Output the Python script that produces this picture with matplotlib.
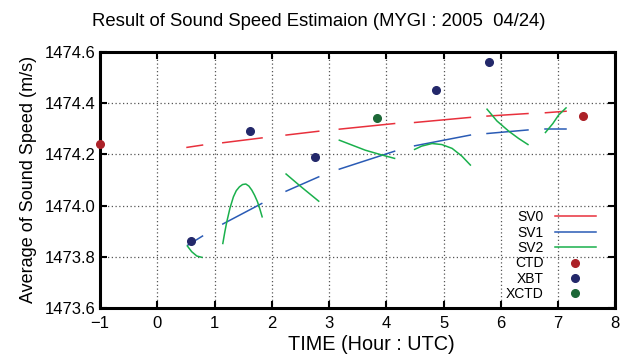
import matplotlib
matplotlib.use('Agg')
import matplotlib.pyplot as plt

plt.rcParams['font.family'] = ['Liberation Sans', 'DejaVu Sans']

# SV0 (red) segments: start/end of each fit window
sv0_x = [[0.52, 0.79], [1.145, 1.83], [2.25, 2.82], [3.18, 4.145],
         [4.495, 5.469], [5.76, 6.475], [6.78, 7.14]]
sv0_y = [[1474.227, 1474.236], [1474.245, 1474.264], [1474.275, 1474.290],
         [1474.298, 1474.320], [1474.324, 1474.344], [1474.349, 1474.359],
         [1474.362, 1474.368]]

# SV1 (blue)
sv1_x = [[0.53, 0.79], [1.145, 1.825], [2.25, 2.82], [3.18, 4.145],
         [4.495, 5.469], [5.76, 6.475], [6.78, 7.14]]
sv1_y = [[1473.845, 1473.881], [1473.928, 1474.008], [1474.056, 1474.112],
         [1474.142, 1474.212], [1474.233, 1474.275], [1474.281, 1474.295],
         [1474.297, 1474.297]]

# SV2 (green), read at several points along each curve
sv2_x = [[0.526, 0.601, 0.691, 0.778],
         [1.145, 1.18, 1.215, 1.27, 1.330, 1.38, 1.435, 1.49, 1.547, 1.60, 1.652, 1.70, 1.750, 1.79, 1.832],
         [2.25, 2.497, 2.82],
         [3.18, 3.633, 3.895, 4.145],
         [4.495, 4.62, 4.80, 4.97, 5.15, 5.32, 5.469],
         [5.76, 5.933, 6.14, 6.31, 6.475],
         [6.78, 6.91, 7.01, 7.14]]
sv2_y = [[1473.842, 1473.820, 1473.803, 1473.798],
         [1473.852, 1473.897, 1473.937, 1473.990, 1474.034, 1474.058, 1474.073, 1474.082, 1474.084,
          1474.076, 1474.060, 1474.040, 1474.015, 1473.988, 1473.956],
         [1474.123, 1474.076, 1474.017],
         [1474.255, 1474.216, 1474.199, 1474.184],
         [1474.219, 1474.232, 1474.242, 1474.238, 1474.223, 1474.193, 1474.158],
         [1474.376, 1474.330, 1474.290, 1474.262, 1474.238],
         [1474.285, 1474.320, 1474.353, 1474.381]]

ctd_x = [-1.0, 7.43]
ctd_y = [1474.24, 1474.349]
xbt_x = [0.59, 1.62, 2.76, 4.87, 5.79]
xbt_y = [1473.861, 1474.29, 1474.189, 1474.45, 1474.56]
xctd_x = [3.83]
xctd_y = [1474.34]

xticks = list(range(-1, 9))
yticks = [1473.6, 1473.8, 1474.0, 1474.2, 1474.4, 1474.6]

fig = plt.figure(figsize=(6.33, 3.62), dpi=100)
ax = fig.add_axes([0.158, 0.149, 0.814, 0.708])

c_red = '#e8303c'
c_blue = '#2a5bb5'
c_green = '#1ab04c'

for i, (xs, ys) in enumerate(zip(sv0_x, sv0_y)):
    ax.plot(xs, ys, color=c_red, lw=1.1, label='SV0' if i == 0 else None)
for i, (xs, ys) in enumerate(zip(sv1_x, sv1_y)):
    ax.plot(xs, ys, color=c_blue, lw=1.1, label='SV1' if i == 0 else None)
for i, (xs, ys) in enumerate(zip(sv2_x, sv2_y)):
    ax.plot(xs, ys, color=c_green, lw=1.1, label='SV2' if i == 0 else None)

ax.plot(ctd_x, ctd_y, 'o', color='#ac2128', ms=5.5, label='CTD', clip_on=False, zorder=5)
ax.plot(xbt_x, xbt_y, 'o', color='#23286a', ms=5.5, label='XBT', zorder=5)
ax.plot(xctd_x, xctd_y, 'o', color='#1d6837', ms=5.5, label='XCTD', zorder=5)

ax.set_xlim(-1, 8)
ax.set_ylim(1473.6, 1474.6)
ax.set_xticks(xticks)
ax.set_yticks(yticks)
ax.set_yticklabels(['%.1f' % v for v in yticks])
ax.tick_params(direction='in', length=5, width=1.5, labelsize=12,
               top=True, right=True)
ax.tick_params(axis='x', pad=6)
ax.tick_params(axis='y', pad=3)
ax.grid(True, linestyle=(0, (1, 2)), color='#555555', lw=0.9)
for s in ax.spines.values():
    s.set_linewidth(2.2)

ax.set_xlabel('TIME (Hour : UTC)', fontsize=14.3)
ax.xaxis.set_label_coords(0.526, -0.105)
ax.set_ylabel('Average of Sound Speed (m/s)', fontsize=13, labelpad=6)
fig.text(0.503, 0.940, 'Result of Sound Speed Estimaion (MYGI : 2005  04/24)',
         ha='center', va='center', fontsize=13.3)

ax.legend(loc='lower right', bbox_to_anchor=(0.974, 0.005), borderaxespad=0,
          frameon=False, markerfirst=False, numpoints=1,
          fontsize=10, handlelength=3.0, labelspacing=0.1, handletextpad=0.8)

fig.savefig('out.png', dpi=100)
